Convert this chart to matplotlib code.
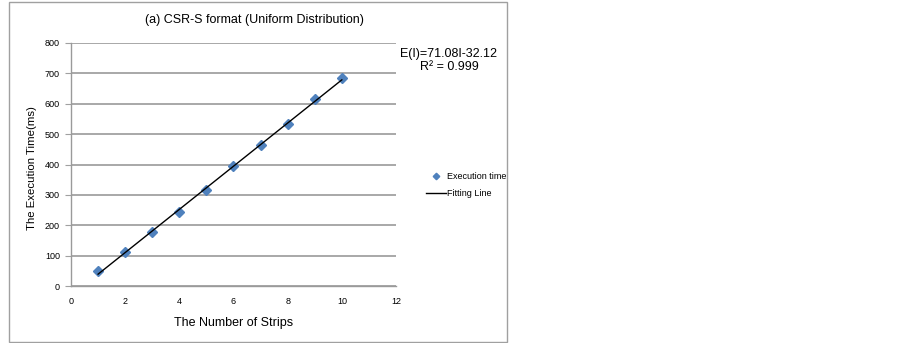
import matplotlib.pyplot as plt
from matplotlib.patches import Rectangle

strips = [1, 2, 3, 4, 5, 6, 7, 8, 9, 10]
exec_time = [50, 113, 177, 245, 316, 395, 464, 533, 616, 686]
slope = 71.08
intercept = -32.12
x_ticks = [0, 2, 4, 6, 8, 10, 12]
y_ticks = [0, 100, 200, 300, 400, 500, 600, 700, 800]

narrow = ['Liberation Sans Narrow', 'Liberation Sans', 'DejaVu Sans']

fig = plt.figure(figsize=(9.03, 3.43), dpi=100)
fig.patches.append(Rectangle((9 / 903, 1 / 343), 498 / 903, 340 / 343,
                             transform=fig.transFigure, fill=False,
                             edgecolor='#a0a0a0', linewidth=1.0))

ax = fig.add_axes([71 / 903, 57 / 343, 325 / 903, 243 / 343])

fit_x = [strips[0], strips[-1]]
fit_y = [slope * v + intercept for v in fit_x]

ax.plot(strips, exec_time, linestyle='none', marker='D', markersize=5.5,
        color='#4f81bd', label='Execution time', zorder=3)
ax.plot(fit_x, fit_y, color='black', linewidth=1.0, label='Fitting Line', zorder=4)

ax.set_xlim(0, 12)
ax.set_ylim(0, 800)
ax.set_xticks(x_ticks)
ax.set_yticks(y_ticks)
for lab in ax.get_xticklabels() + ax.get_yticklabels():
    lab.set_family(narrow)
    lab.set_fontsize(6.5)
ax.tick_params(axis='x', length=0, pad=8)
ax.tick_params(axis='y', length=4, color='#a0a0a0', pad=4)

ax.grid(True, axis='y', color='#9a9a9a', linewidth=1.2)
ax.set_axisbelow(True)
for s in ['top', 'right']:
    ax.spines[s].set_visible(False)
for s in ['left', 'bottom']:
    ax.spines[s].set_color('#9a9a9a')
    ax.spines[s].set_linewidth(1.0)

ax.set_xlabel('The Number of Strips', family=narrow, fontsize=9, labelpad=8)
fig.text(32 / 903, 1 - 168 / 343, 'The Execution Time(ms)', rotation=90,
         ha='center', va='center', fontsize=8.2,
         family=['Liberation Sans', 'DejaVu Sans'])
fig.text(254 / 903, 1 - 20 / 343, '(a) CSR-S format (Uniform Distribution)',
         ha='center', va='center', family=narrow, fontsize=9)

fig.text(449 / 903, 1 - 54 / 343, 'E(I)=71.08I-32.12', ha='center', va='center',
         family=narrow, fontsize=9)
fig.text(449 / 903, 1 - 67 / 343, 'R² = 0.999', ha='center', va='center',
         family=narrow, fontsize=9)

leg = ax.legend(loc='center left', bbox_to_anchor=(418 / 903, 1 - 185 / 343),
                bbox_transform=fig.transFigure, frameon=False, markerscale=0.6,
                handlelength=2.2, handletextpad=0.1, labelspacing=0.9,
                prop={'family': narrow, 'size': 6.5})

fig.savefig('out.png', dpi=100)
